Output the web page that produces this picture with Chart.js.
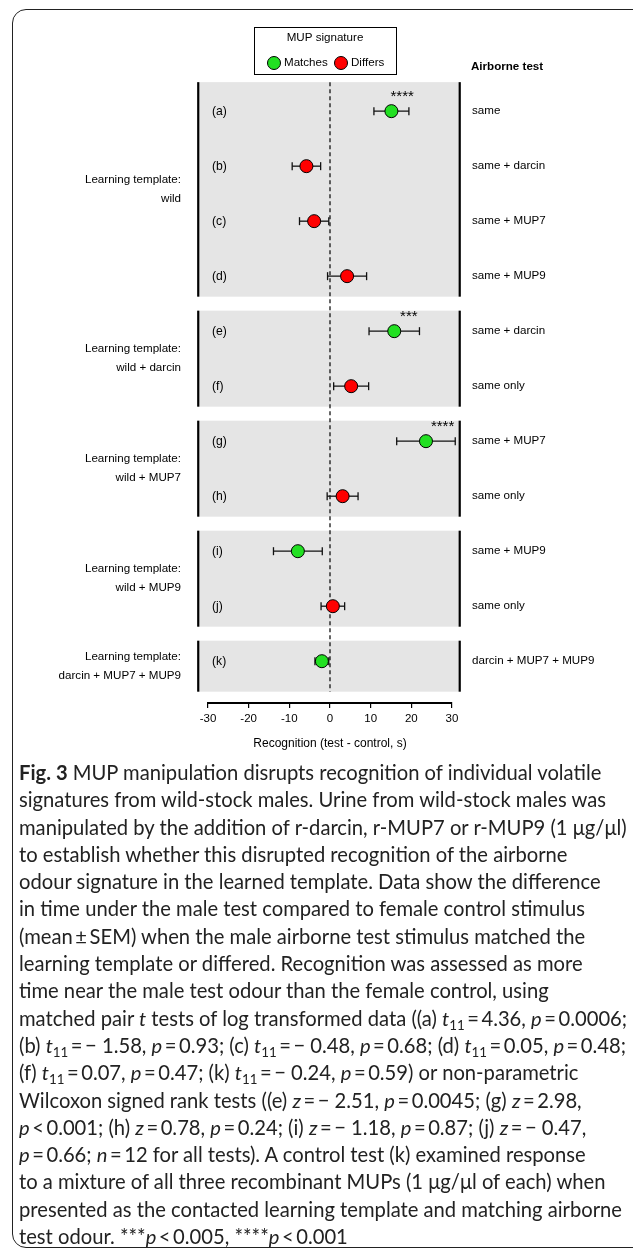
<!DOCTYPE html>
<html>
<head>
<meta charset="utf-8">
<script src="https://cdn.jsdelivr.net/npm/chart.js@4.4.1/dist/chart.umd.min.js"></script>
<style>
  body { margin: 0; background: #fff; }
  #wrap { position: relative; width: 633px; height: 1249px; overflow: hidden; }
  #frame { position: absolute; left: 12px; top: 9px; width: 660px; height: 1239px; border: 1.5px solid #222; border-radius: 14px; box-sizing: border-box; }
  #chart { position: absolute; left: 0; top: 0; }
  #caption { position: absolute; left: 19px; top: 759px; font-family: Lato, sans-serif; font-size: 20.2px; line-height: 27.3px; color: #222; white-space: nowrap; }
  #caption sub { font-size: 0.66em; line-height: 0; vertical-align: -0.3em; }
</style>
</head>
<body>
<div id="wrap">
  <div id="frame"></div>
  <canvas id="chart" width="633" height="760"></canvas>
  <div id="caption">
    <b>Fig. 3</b> MUP manipulation disrupts recognition of individual volatile<br>
    signatures from wild-stock males. Urine from wild-stock males was<br>
    manipulated by the addition of r-darcin, r-MUP7 or r-MUP9 (1 μg/μl)<br>
    to establish whether this disrupted recognition of the airborne<br>
    odour signature in the learned template. Data show the difference<br>
    in time under the male test compared to female control stimulus<br>
    (mean&#8201;±&#8201;SEM) when the male airborne test stimulus matched the<br>
    learning template or differed. Recognition was assessed as more<br>
    time near the male test odour than the female control, using<br>
    matched pair <i>t</i> tests of log transformed data ((a) <i>t</i><sub>11</sub>&#8201;=&#8201;4.36, <i>p</i>&#8201;=&#8201;0.0006;<br>
    (b) <i>t</i><sub>11</sub>&#8201;=&#8201;− 1.58, <i>p</i>&#8201;=&#8201;0.93; (c) <i>t</i><sub>11</sub>&#8201;=&#8201;− 0.48, <i>p</i>&#8201;=&#8201;0.68; (d) <i>t</i><sub>11</sub>&#8201;=&#8201;0.05, <i>p</i>&#8201;=&#8201;0.48;<br>
    (f) <i>t</i><sub>11</sub>&#8201;=&#8201;0.07, <i>p</i>&#8201;=&#8201;0.47; (k) <i>t</i><sub>11</sub>&#8201;=&#8201;− 0.24, <i>p</i>&#8201;=&#8201;0.59) or non-parametric<br>
    Wilcoxon signed rank tests ((e) <i>z</i>&#8201;=&#8201;− 2.51, <i>p</i>&#8201;=&#8201;0.0045; (g) <i>z</i>&#8201;=&#8201;2.98,<br>
    <i>p</i>&#8201;&lt;&#8201;0.001; (h) <i>z</i>&#8201;=&#8201;0.78, <i>p</i>&#8201;=&#8201;0.24; (i) <i>z</i>&#8201;=&#8201;− 1.18, <i>p</i>&#8201;=&#8201;0.87; (j) <i>z</i>&#8201;=&#8201;− 0.47,<br>
    <i>p</i>&#8201;=&#8201;0.66; <i>n</i>&#8201;=&#8201;12 for all tests). A control test (k) examined response<br>
    to a mixture of all three recombinant MUPs (1 μg/μl of each) when<br>
    presented as the contacted learning template and matching airborne<br>
    test odour. ***<i>p</i>&#8201;&lt;&#8201;0.005, ****<i>p</i>&#8201;&lt;&#8201;0.001
  </div>
</div>
<script>
// one entry per row, top to bottom
const rowLabels = ['(a)', '(b)', '(c)', '(d)', '(e)', '(f)', '(g)', '(h)', '(i)', '(j)', '(k)'];
const airborneTest = ['same', 'same + darcin', 'same + MUP7', 'same + MUP9', 'same + darcin', 'same only',
  'same + MUP7', 'same only', 'same + MUP9', 'same only', 'darcin + MUP7 + MUP9'];
const signature = ['Matches', 'Differs', 'Differs', 'Differs', 'Matches', 'Differs',
  'Matches', 'Differs', 'Matches', 'Differs', 'Matches'];
const means = [15.1, -5.8, -3.9, 4.2, 15.8, 5.2, 23.6, 3.1, -7.9, 0.7, -2.0];
const sem = [4.3, 3.5, 3.6, 4.8, 6.2, 4.3, 7.2, 3.8, 6.0, 2.9, 1.7];
const stars = ['****', '', '', '', '***', '', '****', '', '', '', ''];

// panels (learning templates) and how many rows each holds
const templates = ['wild', 'wild + darcin', 'wild + MUP7', 'wild + MUP9', 'darcin + MUP7 + MUP9'];
const groupSizes = [4, 2, 2, 2, 1];

const xTicks = [-30, -20, -10, 0, 10, 20, 30];
const sigColors = { Matches: '#22e022', Differs: '#ff0000' };

const FONT = 'Liberation Sans, Arial, sans-serif';

function seg(ctx, x1, y1, x2, y2) {
  ctx.beginPath(); ctx.moveTo(x1, y1); ctx.lineTo(x2, y2); ctx.stroke();
}

const figurePlugin = {
  id: 'figure',
  beforeDatasetsDraw(chart) {
    const { ctx, scales: { x, y } } = chart;
    const left = x.getPixelForValue(-32.4), right = x.getPixelForValue(31.9);
    ctx.save();

    // grey panels + template labels
    let start = 0, firstTop = 0, lastBottom = 0;
    groupSizes.forEach((n, g) => {
      const first = start, last = start + n - 1;
      const top = y.getPixelForValue(first - 0.5) + (g === 0 ? -1.5 : 7);
      const bottom = y.getPixelForValue(last + 0.5) + (g === groupSizes.length - 1 ? 3 : -7);
      if (g === 0) firstTop = top;
      lastBottom = bottom;
      ctx.fillStyle = '#e5e5e5';
      ctx.fillRect(left, top, right - left, bottom - top);
      ctx.strokeStyle = '#000';
      ctx.lineWidth = 2.2;
      seg(ctx, left, top, left, bottom);
      seg(ctx, right, top, right, bottom);

      const mid = (top + bottom) / 2;
      ctx.fillStyle = '#000';
      ctx.font = '11.6px ' + FONT;
      ctx.textAlign = 'right';
      ctx.textBaseline = 'middle';
      ctx.fillText('Learning template:', 181, mid - 9.5);
      ctx.fillText(templates[g], 181, mid + 9.5);
      start += n;
    });

    // zero line
    const x0 = x.getPixelForValue(0);
    ctx.strokeStyle = '#000';
    ctx.lineWidth = 1.2;
    ctx.setLineDash([4, 3]);
    seg(ctx, x0, firstTop, x0, lastBottom);
    ctx.setLineDash([]);

    // row labels, airborne test labels, error bars, stars
    ctx.textBaseline = 'middle';
    means.forEach((m, i) => {
      const py = y.getPixelForValue(i);
      ctx.fillStyle = '#000';
      ctx.textAlign = 'left';
      ctx.font = '12.2px ' + FONT;
      ctx.fillText(rowLabels[i], 212, py);
      ctx.font = '11.6px ' + FONT;
      ctx.fillText(airborneTest[i], 472, py);

      const x1 = x.getPixelForValue(m - sem[i]);
      const x2 = x.getPixelForValue(m + sem[i]);
      ctx.strokeStyle = '#111';
      ctx.lineWidth = 1.3;
      seg(ctx, x1, py, x2, py);
      seg(ctx, x1, py - 4, x1, py + 4);
      seg(ctx, x2, py - 4, x2, py + 4);

      if (stars[i]) {
        ctx.textAlign = 'center';
        ctx.font = '15px ' + FONT;
        ctx.fillText(stars[i], (x.getPixelForValue(m) + x2) / 2 + 2, py - 14);
      }
    });

    ctx.font = 'bold 11.6px ' + FONT;
    ctx.textAlign = 'left';
    ctx.fillText('Airborne test', 471, 67);

    // legend box
    ctx.strokeStyle = '#000';
    ctx.lineWidth = 1;
    ctx.strokeRect(254.5, 27.5, 142, 47);
    ctx.font = '11.6px ' + FONT;
    ctx.textAlign = 'center';
    ctx.fillText('MUP signature', 325, 38);
    const legendX = [274, 341];
    chart.data.datasets.forEach((ds, k) => {
      ctx.beginPath();
      ctx.arc(legendX[k], 63, 6.5, 0, Math.PI * 2);
      ctx.fillStyle = ds.backgroundColor;
      ctx.fill();
      ctx.strokeStyle = '#000';
      ctx.stroke();
      ctx.fillStyle = '#000';
      ctx.textAlign = 'left';
      ctx.fillText(ds.label, legendX[k] + 10, 63);
    });
    ctx.restore();
  }
};

const rows = means.map((m, i) => ({ x: m, y: i }));

new Chart(document.getElementById('chart'), {
  type: 'scatter',
  data: {
    datasets: ['Matches', 'Differs'].map(sig => ({
      label: sig,
      data: rows.filter((r, i) => signature[i] === sig),
      backgroundColor: sigColors[sig],
      borderColor: '#000',
      borderWidth: 1,
      pointRadius: 6.5,
      pointHoverRadius: 6.5,
      clip: false
    }))
  },
  options: {
    responsive: false,
    animation: false,
    layout: { padding: { left: 208, right: 181, top: 82, bottom: 8.8 } },
    plugins: { legend: { display: false }, tooltip: { enabled: false } },
    scales: {
      x: {
        type: 'linear',
        min: -30,
        max: 30,
        afterBuildTicks: s => { s.ticks = xTicks.map(v => ({ value: v })); },
        ticks: { color: '#000', font: { family: FONT, size: 11.5 }, padding: 4 },
        grid: { drawOnChartArea: false, drawTicks: true, tickLength: 5, color: '#000', lineWidth: 1.2 },
        border: { display: true, color: '#000', width: 2 },
        title: {
          display: true,
          text: 'Recognition (test - control, s)',
          color: '#000',
          font: { family: FONT, size: 12 },
          padding: { top: 7, bottom: 0 }
        }
      },
      y: {
        type: 'linear',
        reverse: true,
        min: -0.53,
        max: 10.76,
        display: false
      }
    }
  },
  plugins: [figurePlugin]
});
</script>
</body>
</html>
